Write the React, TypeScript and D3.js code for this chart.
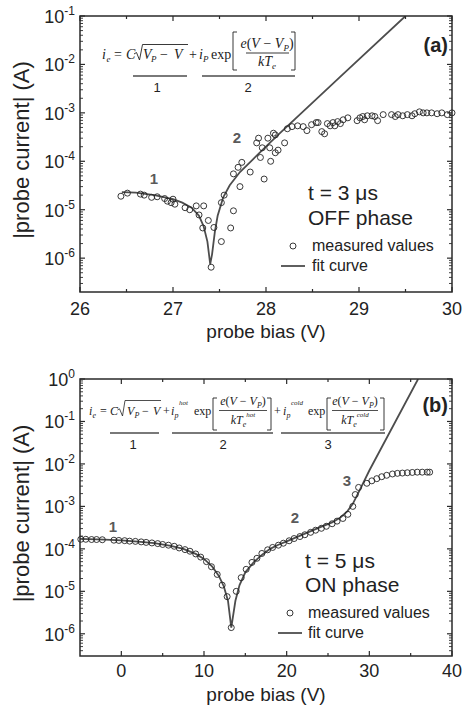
import React from "react";
import * as d3 from "d3";

// ---------------- Panel (a): t = 3 µs, OFF phase ----------------
const aBiasMeasured = [
  26.44, 26.51, 26.65, 26.69, 26.77, 26.83, 26.91, 26.94, 26.98, 27.0, 27.02, 27.13, 27.18, 27.25,
  27.33, 27.28, 27.32, 27.38, 27.44, 27.41, 27.52, 27.62, 27.65, 27.52, 27.55, 27.65, 27.7, 27.74,
  27.72, 27.83, 27.9, 27.92, 27.94, 27.96, 27.98, 28.02, 28.08, 28.1, 28.04, 28.05, 28.1, 28.13,
  28.2, 28.23, 28.28, 28.34, 28.4, 28.44, 28.49, 28.54, 28.56, 28.6, 28.63, 28.66, 28.69, 28.72,
  28.74, 28.77, 28.8, 28.83, 28.88, 28.98, 29.01, 29.04, 29.06, 29.09, 29.14, 29.17, 29.2, 29.26,
  29.35, 29.39, 29.42, 29.47, 29.52, 29.57, 29.6, 29.65, 29.69, 29.73, 29.78, 29.84, 29.89, 29.95, 30.0,
];
const aCurrentMeasured = [
  1.9e-5, 2.2e-5, 2.1e-5, 2.0e-5, 1.8e-5, 1.85e-5, 1.7e-5, 1.5e-5, 1.4e-5, 1.65e-5, 1.3e-5, 1.1e-5, 1.0e-5, 1.2e-5,
  1.2e-5, 7.8e-6, 4.2e-6, 6e-6, 4.3e-6, 6.5e-7, 2.2e-6, 4.2e-6, 9.5e-6, 1.4e-5, 2.0e-5, 5.5e-5, 7.5e-5, 9.5e-5,
  3.0e-5, 6.0e-5, 2.4e-4, 3.0e-4, 1.2e-4, 1.9e-4, 4.3e-5, 3.0e-4, 3.8e-4, 3.5e-4, 1.9e-4, 1.0e-4, 1.5e-4, 1.7e-4,
  2.4e-4, 4.7e-4, 5.2e-4, 5.4e-4, 5.2e-4, 4.3e-4, 5.7e-4, 6.3e-4, 6.3e-4, 4.1e-4, 3.7e-4, 6.0e-4, 5.4e-4, 6.3e-4,
  5.4e-4, 6.6e-4, 6.0e-4, 7.2e-4, 7.9e-4, 6.9e-4, 7.9e-4, 8.4e-4, 7.2e-4, 8.7e-4, 8.7e-4, 8.4e-4, 6.9e-4, 9.2e-4,
  9.2e-4, 8.4e-4, 9.2e-4, 8.7e-4, 9.2e-4, 8.7e-4, 9.6e-4, 1.05e-3, 1.0e-3, 1.0e-3, 1.0e-3, 9.6e-4, 1.0e-3, 9.2e-4, 1.0e-3,
];
const aBiasFit = [
  26.45, 26.6, 26.8, 27.0, 27.1, 27.2, 27.28, 27.33, 27.37, 27.4, 27.42, 27.45, 27.48, 27.54, 27.61,
  27.72, 27.86, 28.01, 28.15, 28.8, 29.5,
];
const aCurrentFit = [
  2.3e-5, 2.25e-5, 2.0e-5, 1.65e-5, 1.4e-5, 1.1e-5, 7.5e-6, 4.5e-6, 2.2e-6, 7.5e-7, 1.2e-6, 3.5e-6, 7.5e-6, 1.8e-5, 3.2e-5,
  6e-5, 1.1e-4, 2.1e-4, 3.8e-4, 5.6e-3, 1e-1,
];
const aXTicks = [26, 27, 28, 29, 30];
const aXMinorTicks = [26.5, 27.5, 28.5, 29.5];
const aYExponents = [-6, -5, -4, -3, -2, -1];

// ---------------- Panel (b): t = 5 µs, ON phase ----------------
const bBiasMeasured = [
  -4.9, -4.3, -3.6, -3.0, -2.3, -0.9, -0.3, 0.4, 1.0, 1.7, 2.4, 3.0, 3.7, 4.4, 5.0, 5.7, 6.4, 7.0, 7.7, 8.3,
  9.0, 9.6, 10.3, 10.9, 11.6, 12.2, 12.8, 13.3, 13.9, 14.5, 15.1, 15.8, 16.4, 17.0, 17.7, 18.3, 19.0, 19.6,
  20.3, 20.9, 21.6, 22.2, 22.9, 23.5, 24.2, 24.8, 25.5, 26.1, 26.8, 27.4, 28.0, 28.3, 28.7, 29.7, 30.3, 30.9,
  31.5, 32.1, 32.8, 33.4, 34.0, 34.6, 35.2, 35.8, 36.4, 37.0, 37.3,
];
const bCurrentMeasured = [
  1.68e-4, 1.68e-4, 1.66e-4, 1.66e-4, 1.64e-4, 1.6e-4, 1.58e-4, 1.56e-4, 1.52e-4, 1.5e-4, 1.46e-4, 1.42e-4, 1.38e-4,
  1.33e-4, 1.27e-4, 1.22e-4, 1.15e-4, 1.05e-4, 9.6e-5, 8.8e-5, 7.6e-5, 6.4e-5, 5.0e-5, 3.8e-5, 2.5e-5, 1.4e-5,
  7.5e-6, 1.4e-6, 1.0e-5, 2.1e-5, 3.3e-5, 4.8e-5, 6.0e-5, 7.8e-5, 9.5e-5, 1.08e-4, 1.22e-4, 1.36e-4, 1.55e-4,
  1.75e-4, 1.95e-4, 2.15e-4, 2.45e-4, 2.75e-4, 3.05e-4, 3.4e-4, 3.9e-4, 4.5e-4, 5.2e-4, 6.5e-4, 1.0e-3, 1.9e-3,
  2.8e-3, 3.5e-3, 4.0e-3, 4.5e-3, 5.0e-3, 5.4e-3, 5.8e-3, 6.0e-3, 6.1e-3, 6.2e-3, 6.3e-3, 6.4e-3, 6.4e-3, 6.4e-3, 6.4e-3,
];
const bBiasFit = [
  -5, -2, 0, 2, 4, 6, 7.5, 9, 10, 11, 11.8, 12.4, 12.9, 13.3, 13.8, 14.3, 15, 16, 17, 18, 19, 20, 22, 24,
  25.5, 26.5, 27.3, 28, 29, 30, 35.9,
];
const bCurrentFit = [
  1.72e-4, 1.65e-4, 1.58e-4, 1.48e-4, 1.36e-4, 1.18e-4, 1.0e-4, 7.6e-5, 5.8e-5, 3.8e-5, 2.3e-5, 1.3e-5, 6e-6,
  1.4e-6, 6e-6, 1.4e-5, 2.8e-5, 4.8e-5, 7.2e-5, 1.0e-4, 1.25e-4, 1.5e-4, 2.2e-4, 3.2e-4, 4.2e-4, 5.5e-4,
  7.5e-4, 1.15e-3, 2.8e-3, 7e-3, 1.0,
];
const bXTicks = [0, 10, 20, 30, 40];
const bXMinorTicks = [5, 15, 25, 35];
const bYExponents = [-6, -5, -4, -3, -2, -1, 0];

const SANS = "'Liberation Sans', Arial, Helvetica, sans-serif";
const SERIF = "'Liberation Serif', 'Times New Roman', serif";
const AXIS = "#2a2a2a";
const CURVE = "#4d4d4d";
const LABEL_GRAY = "#5a5a5a";

type PanelProps = {
  id: string;
  left: number; right: number; top: number; bottom: number;
  xDomain: [number, number]; yDomain: [number, number];
  xTicks: number[]; xMinor: number[]; yExps: number[];
  mV: number[]; mI: number[]; fV: number[]; fI: number[];
  xLabelY: number; xTitleY: number;
};

function Panel(p: PanelProps) {
  const x = d3.scaleLinear().domain(p.xDomain).range([p.left, p.right]);
  const y = d3.scaleLog().domain(p.yDomain).range([p.bottom, p.top]);
  const fit = p.fV.map((v, i) => [v, p.fI[i]] as [number, number]);
  const line = d3.line<[number, number]>().x((d) => x(d[0])).y((d) => y(d[1]));
  const minorY: number[] = [];
  const e0 = Math.floor(Math.log10(p.yDomain[0]));
  const e1 = Math.ceil(Math.log10(p.yDomain[1]));
  for (let e = e0; e < e1; e++) {
    for (let k = 2; k <= 9; k++) {
      const v = k * Math.pow(10, e);
      if (v > p.yDomain[0] && v < p.yDomain[1]) minorY.push(v);
    }
  }
  const maj = 5, mnr = 3;
  const yTitleY = (p.top + p.bottom) / 2 - 4;
  return (
    <g>
      <defs>
        <clipPath id={`clip-${p.id}`}>
          <rect x={p.left} y={p.top} width={p.right - p.left} height={p.bottom - p.top} />
        </clipPath>
      </defs>
      {/* fit curve */}
      <path d={line(fit) || ""} fill="none" stroke={CURVE} strokeWidth={1.8} clipPath={`url(#clip-${p.id})`} />
      {/* measured values */}
      {p.mV.map((v, i) => (
        <circle key={i} cx={x(v)} cy={y(p.mI[i])} r={3} fill="none" stroke="#222" strokeWidth={0.9} />
      ))}
      {/* frame */}
      <rect x={p.left} y={p.top} width={p.right - p.left} height={p.bottom - p.top} fill="none" stroke={AXIS} strokeWidth={1.5} />
      {/* x ticks */}
      {p.xTicks.map((t) => (
        <g key={`xt${t}`}>
          <line x1={x(t)} x2={x(t)} y1={p.bottom} y2={p.bottom - maj} stroke={AXIS} strokeWidth={1.2} />
          <line x1={x(t)} x2={x(t)} y1={p.top} y2={p.top + maj} stroke={AXIS} strokeWidth={1.2} />
          <text x={x(t)} y={p.xLabelY} fontFamily={SANS} fontSize={18} textAnchor="middle" fill="#222">{t}</text>
        </g>
      ))}
      {p.xMinor.map((t) => (
        <g key={`xm${t}`}>
          <line x1={x(t)} x2={x(t)} y1={p.bottom} y2={p.bottom - mnr} stroke={AXIS} strokeWidth={1.2} />
          <line x1={x(t)} x2={x(t)} y1={p.top} y2={p.top + mnr} stroke={AXIS} strokeWidth={1.2} />
        </g>
      ))}
      {/* y ticks */}
      {p.yExps.map((e) => {
        const yy = y(Math.pow(10, e));
        return (
          <g key={`yt${e}`}>
            <line x1={p.left} x2={p.left + maj} y1={yy} y2={yy} stroke={AXIS} strokeWidth={1.2} />
            <line x1={p.right} x2={p.right - maj} y1={yy} y2={yy} stroke={AXIS} strokeWidth={1.2} />
            <text x={p.left - 5} y={yy + 7} fontFamily={SANS} fontSize={18} textAnchor="end" fill="#222">
              10<tspan fontSize={12} dy={-8}>{e === 0 ? "0" : `-${-e}`}</tspan>
            </text>
          </g>
        );
      })}
      {minorY.map((v, i) => (
        <g key={`ym${i}`}>
          <line x1={p.left} x2={p.left + mnr} y1={y(v)} y2={y(v)} stroke={AXIS} strokeWidth={0.9} />
          <line x1={p.right} x2={p.right - mnr} y1={y(v)} y2={y(v)} stroke={AXIS} strokeWidth={0.9} />
        </g>
      ))}
      {/* axis titles */}
      <text x={(p.left + p.right) / 2} y={p.xTitleY} fontFamily={SANS} fontSize={19} textAnchor="middle" fill="#222">
        probe bias (V)
      </text>
      <text transform={`translate(29,${yTitleY}) rotate(-90)`} fontFamily={SANS} fontSize={22} textAnchor="middle" fill="#222">
        |probe current| (A)
      </text>
    </g>
  );
}

type Piece = { t: string; x: number; y: number; s: number; it?: boolean };
function Pieces({ items }: { items: Piece[] }) {
  return (
    <g fontFamily={SERIF} fill="#222">
      {items.map((d, i) => (
        <text key={i} x={d.x} y={d.y} fontSize={d.s} fontStyle={d.it ? "italic" : "normal"}>{d.t}</text>
      ))}
    </g>
  );
}

function Bracket({ x, y0, y1, open }: { x: number; y0: number; y1: number; open: boolean }) {
  const w = 4;
  const d = open ? `M${x + w},${y0} H${x} V${y1} H${x + w}` : `M${x - w},${y0} H${x} V${y1} H${x - w}`;
  return <path d={d} fill="none" stroke="#222" strokeWidth={0.9} />;
}

function FormulaA() {
  const B = 59, S = 14, s = 9, sb = B + 3;
  const items: Piece[] = [
    { t: "i", x: 102, y: B, s: S, it: true },
    { t: "e", x: 106.5, y: sb, s, it: true },
    { t: "=", x: 114, y: B, s: S },
    { t: "C", x: 126, y: B, s: S, it: true },
    { t: "V", x: 143, y: B, s: S, it: true },
    { t: "P", x: 151, y: sb, s, it: true },
    { t: "\u2212", x: 160, y: B, s: S },
    { t: "V", x: 174, y: B, s: S, it: true },
    { t: "+", x: 189, y: B, s: S },
    { t: "i", x: 199, y: B, s: S, it: true },
    { t: "P", x: 203, y: sb, s, it: true },
    { t: "exp", x: 211, y: B, s: S },
  ];
  return (
    <g>
      <Pieces items={items} />
      <path d="M134,54 L136.5,52.5 L139.5,60 L142.5,44.5 H188" fill="none" stroke="#222" strokeWidth={0.9} />
      <Bracket x={233} y0={32} y1={70} open={true} />
      <Bracket x={295} y0={32} y1={70} open={false} />
      <text x={267} y={48} fontFamily={SERIF} fontSize={S} textAnchor="middle" fill="#222">
        <tspan fontStyle="italic">e</tspan>(<tspan fontStyle="italic">V</tspan> {"\u2212"} <tspan fontStyle="italic">V</tspan>
        <tspan fontSize={s} fontStyle="italic" dy={3}>P</tspan><tspan dy={-3}>)</tspan>
      </text>
      <line x1={246} x2={289} y1={53} y2={53} stroke="#222" strokeWidth={0.9} />
      <text x={267} y={66} fontFamily={SERIF} fontSize={S} textAnchor="middle" fill="#222" fontStyle="italic">
        kT<tspan fontSize={s} dy={3}>e</tspan>
      </text>
      <line x1={133} x2={187} y1={76} y2={76} stroke={CURVE} strokeWidth={1.5} />
      <line x1={202} x2={295} y1={76} y2={76} stroke={CURVE} strokeWidth={1.5} />
      <text x={157} y={92} fontFamily={SANS} fontSize={13} textAnchor="middle" fill="#222">1</text>
      <text x={248} y={92} fontFamily={SANS} fontSize={13} textAnchor="middle" fill="#222">2</text>
    </g>
  );
}

function FormulaB() {
  const B = 415, S = 12, s = 8, sb = B + 3, sp = B - 10;
  const items: Piece[] = [
    { t: "i", x: 89, y: B, s: S, it: true },
    { t: "e", x: 92.5, y: sb, s, it: true },
    { t: "=", x: 100, y: B, s: S },
    { t: "C", x: 110, y: B, s: S, it: true },
    { t: "V", x: 127, y: B, s: S, it: true },
    { t: "P", x: 134.5, y: sb, s, it: true },
    { t: "\u2212", x: 142, y: B, s: S },
    { t: "V", x: 153, y: B, s: S, it: true },
    { t: "+", x: 163, y: B, s: S },
    { t: "i", x: 171, y: B, s: S, it: true },
    { t: "p", x: 174.5, y: sb, s, it: true },
    { t: "hot", x: 179, y: sp, s: 7, it: true },
    { t: "exp", x: 194, y: B, s: S },
    { t: "+", x: 274, y: B, s: S },
    { t: "i", x: 283, y: B, s: S, it: true },
    { t: "p", x: 286.5, y: sb, s, it: true },
    { t: "cold", x: 291, y: sp, s: 7, it: true },
    { t: "exp", x: 308, y: B, s: S },
  ];
  const frac = (cx: number, x0: number, x1: number, sup: string) => (
    <g>
      <text x={cx} y={405} fontFamily={SERIF} fontSize={S} textAnchor="middle" fill="#222">
        <tspan fontStyle="italic">e</tspan>(<tspan fontStyle="italic">V</tspan> {"\u2212"} <tspan fontStyle="italic">V</tspan>
        <tspan fontSize={s} fontStyle="italic" dy={3}>P</tspan><tspan dy={-3}>)</tspan>
      </text>
      <line x1={x0} x2={x1} y1={410.5} y2={410.5} stroke="#222" strokeWidth={0.8} />
      <text x={cx} y={424} fontFamily={SERIF} fontSize={S} textAnchor="middle" fill="#222" fontStyle="italic">
        kT<tspan fontSize={s} dy={3}>e</tspan><tspan fontSize={7} dy={-10}>{sup}</tspan>
      </text>
    </g>
  );
  return (
    <g>
      <Pieces items={items} />
      <path d="M117.5,410 L119.5,408.8 L122.5,416 L125,400.5 H161" fill="none" stroke="#222" strokeWidth={0.8} />
      <Bracket x={213} y0={398} y1={430} open={true} />
      {frac(243, 219, 267, "hot")}
      <Bracket x={271} y0={398} y1={430} open={false} />
      <Bracket x={327} y0={398} y1={430} open={true} />
      {frac(355, 332, 378, "cold")}
      <Bracket x={384} y0={398} y1={430} open={false} />
      <line x1={110} x2={159} y1={433} y2={433} stroke={CURVE} strokeWidth={1.5} />
      <line x1={172} x2={273} y1={433} y2={433} stroke={CURVE} strokeWidth={1.5} />
      <line x1={281} x2={385} y1={433} y2={433} stroke={CURVE} strokeWidth={1.5} />
      <text x={133} y={449} fontFamily={SANS} fontSize={13} textAnchor="middle" fill="#222">1</text>
      <text x={223} y={449} fontFamily={SANS} fontSize={13} textAnchor="middle" fill="#222">2</text>
      <text x={328} y={449} fontFamily={SANS} fontSize={13} textAnchor="middle" fill="#222">3</text>
    </g>
  );
}

function Legend({ tx, l1, l2, y1, y2, cx, cy, lineY, textX, mY, fY }: any) {
  return (
    <g fontFamily={SANS} fill="#222">
      <text x={tx} y={y1} fontSize={21}>{l1}</text>
      <text x={tx} y={y2} fontSize={21}>{l2}</text>
      <circle cx={cx} cy={cy} r={3} fill="none" stroke="#222" strokeWidth={0.9} />
      <text x={textX} y={mY} fontSize={16}>measured values</text>
      <line x1={cx - 12} x2={cx + 12} y1={lineY} y2={lineY} stroke={CURVE} strokeWidth={1.8} />
      <text x={textX} y={fY} fontSize={16}>fit curve</text>
    </g>
  );
}

export default function App() {
  return (
    <svg width={466} height={708} style={{ position: "absolute", left: 0, top: 0, background: "#fff" }}>
      <rect width={466} height={708} fill="#fff" />
      <Panel id="a" left={80} right={452} top={16} bottom={292} xDomain={[26, 30]} yDomain={[2e-7, 1e-1]}
        xTicks={aXTicks} xMinor={aXMinorTicks} yExps={aYExponents}
        mV={aBiasMeasured} mI={aCurrentMeasured} fV={aBiasFit} fI={aCurrentFit}
        xLabelY={315} xTitleY={338} />
      <Panel id="b" left={80} right={452} top={379} bottom={656} xDomain={[-5, 40]} yDomain={[3e-7, 1]}
        xTicks={bXTicks} xMinor={bXMinorTicks} yExps={bYExponents}
        mV={bBiasMeasured} mI={bCurrentMeasured} fV={bBiasFit} fI={bCurrentFit}
        xLabelY={677} xTitleY={701} />
      <FormulaA />
      <FormulaB />
      <text x={448} y={52} fontFamily={SANS} fontSize={20} fontWeight="bold" textAnchor="end" fill="#222">(a)</text>
      <text x={448} y={412} fontFamily={SANS} fontSize={20} fontWeight="bold" textAnchor="end" fill="#222">(b)</text>
      <g fontFamily={SANS} fontSize={15} fontWeight="bold" fill={LABEL_GRAY} textAnchor="middle">
        <text x={154} y={184}>1</text>
        <text x={237} y={143}>2</text>
        <text x={113} y={532}>1</text>
        <text x={295} y={523}>2</text>
        <text x={347} y={486}>3</text>
      </g>
      <Legend tx={308} l1={"t = 3 \u03bcs"} l2="OFF phase" y1={200} y2={225} cx={293} cy={246} lineY={266} textX={312} mY={251} fY={271} />
      <Legend tx={305} l1={"t = 5 \u03bcs"} l2="ON phase" y1={568} y2={592} cx={290} cy={613} lineY={633} textX={308} mY={618} fY={638} />
    </svg>
  );
}
